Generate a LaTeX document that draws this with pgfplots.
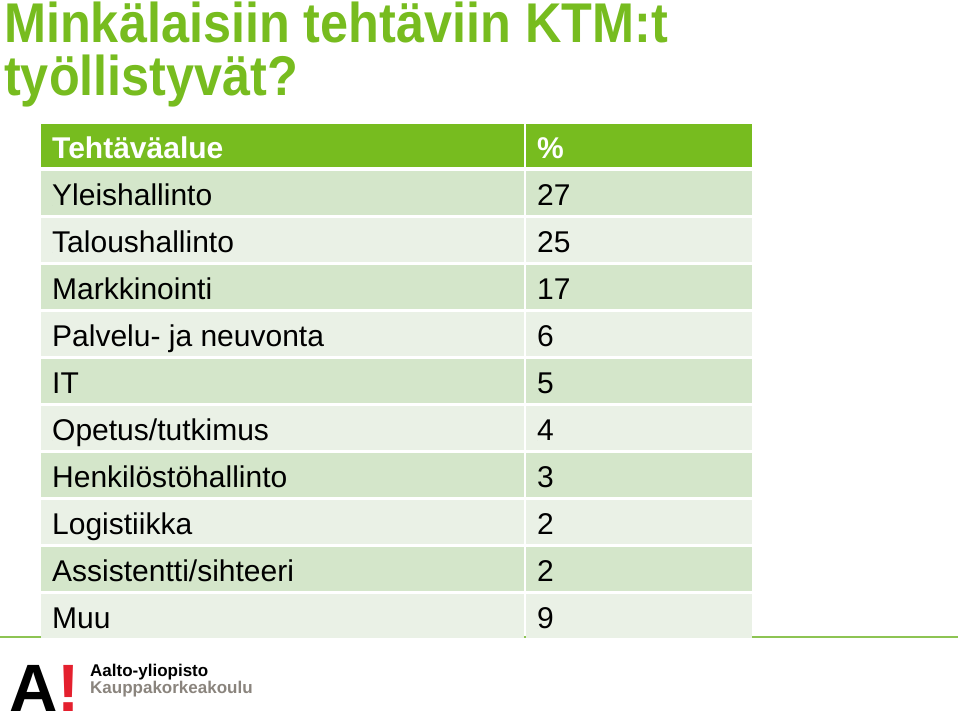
\documentclass[border=0pt]{standalone}
\usepackage{pgfplots}
\pgfplotsset{compat=1.18}
\usepackage{pgfplotstable}
\usepackage{fontspec}
\setmainfont{Liberation Sans}
\newfontfamily\titlefont[FakeStretch=0.9]{Liberation Sans}
\definecolor{aaltogreen}{HTML}{77BC1F}
\definecolor{linegreen}{HTML}{8DC453}
\definecolor{rowdark}{HTML}{D4E6CA}
\definecolor{rowlight}{HTML}{EAF1E6}
\definecolor{aaltored}{HTML}{E4202E}
\definecolor{aaltogrey}{HTML}{8A847D}

\pgfplotstableread[col sep=semicolon]{
y;name;val
0;Yleishallinto;27
1;Taloushallinto;25
2;Markkinointi;17
3;Palvelu- ja neuvonta;6
4;IT;5
5;Opetus/tutkimus;4
6;Henkilöstöhallinto;3
7;Logistiikka;2
8;Assistentti/sihteeri;2
9;Muu;9
}\datatable

\begin{document}
\begin{tikzpicture}
\begin{axis}[name=ax,
  scale only axis, width=960pt, height=717pt,
  xmin=0, xmax=960, ymin=0, ymax=717, y dir=reverse,
  axis lines=none, clip=false,
  y filter/.expression={205+47*y},
]
% green rule behind table
\fill[linegreen] (0,635.5) rectangle (958,637.5);
% header
\fill[aaltogreen] (41,124) rectangle (524,167);
\fill[aaltogreen] (526,124) rectangle (752,167);
\pgfplotsinvokeforeach{0,2,4,6,8}{
  \fill[rowdark] (41,{171+47*#1}) rectangle (524,{215+47*#1});
  \fill[rowdark] (526,{171+47*#1}) rectangle (752,{215+47*#1});
}
\pgfplotsinvokeforeach{1,3,5,7,9}{
  \fill[rowlight] (41,{171+47*#1}) rectangle (524,{215+47*#1});
  \fill[rowlight] (526,{171+47*#1}) rectangle (752,{215+47*#1});
}
% header text
\node[anchor=base west, inner sep=0pt, text=white, font=\fontsize{30}{32}\selectfont\bfseries] at (52,158) {Tehtäväalue};
\node[anchor=base west, inner sep=0pt, text=white, font=\fontsize{30}{32}\selectfont\bfseries] at (537,158) {\%};
% category names
\addplot[only marks, mark=*, mark size=0pt, mark options={draw=none,fill=none},
  point meta=explicit symbolic, nodes near coords,
  nodes near coords align={anchor=base west},
  every node near coord/.append style={anchor=base west, inner sep=0pt, font=\fontsize{30}{32}\selectfont, text=black}]
  table[x expr=52, y=y, meta=name] {\datatable};
% values
\addplot[only marks, mark=*, mark size=0pt, mark options={draw=none,fill=none},
  point meta=explicit symbolic, nodes near coords,
  nodes near coords align={anchor=base west},
  every node near coord/.append style={anchor=base west, inner sep=0pt, font=\fontsize{30}{32}\selectfont, text=black}]
  table[x expr=537, y=y, meta=val] {\datatable};
% title
\node[anchor=base west, inner sep=0pt, text=aaltogreen, font=\titlefont\fontsize{56}{56}\selectfont\bfseries] at (4,43) {Minkälaisiin tehtäviin KTM:t};
\node[anchor=base west, inner sep=0pt, text=aaltogreen, font=\titlefont\fontsize{56}{56}\selectfont\bfseries] at (4,95) {työllistyvät?};
% logo
\node[anchor=base west, inner sep=0pt, font=\fontsize{67}{67}\selectfont\bfseries] at (9,711) {A\textcolor{aaltored}{!}};
\node[anchor=base west, inner sep=0pt, font=\fontsize{17}{18}\selectfont\bfseries] at (90,676) {Aalto-yliopisto};
\node[anchor=base west, inner sep=0pt, text=aaltogrey, font=\fontsize{17}{18}\selectfont\bfseries] at (90,693) {Kauppakorkeakoulu};
\end{axis}
\pgfresetboundingbox
\path (ax.south west) rectangle (ax.north east);
\end{tikzpicture}
\end{document}
